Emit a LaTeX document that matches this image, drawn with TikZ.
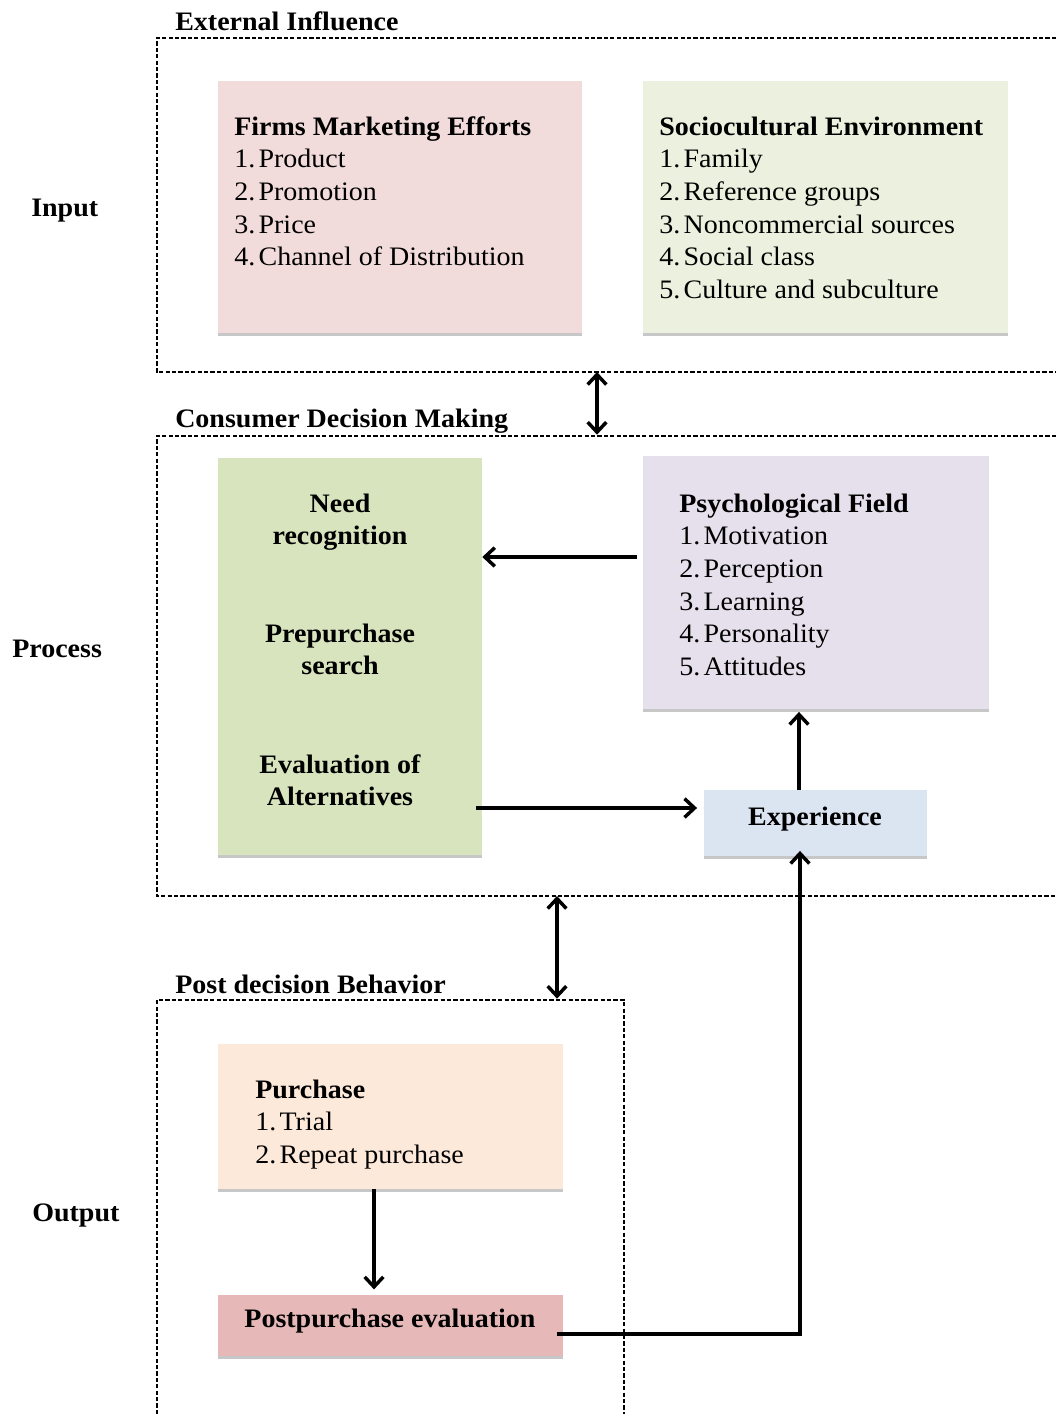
\documentclass[tikz,border=0pt]{standalone}
\usepackage{fontspec}
\setmainfont{Liberation Serif}[FakeStretch=1.05]
\usetikzlibrary{arrows.meta,fit,shadows}
\definecolor{cFirms}{HTML}{F2DCDB}
\definecolor{cSocio}{HTML}{EBF1DE}
\definecolor{cNeed}{HTML}{D7E4BD}
\definecolor{cPsych}{HTML}{E6E0EC}
\definecolor{cExp}{HTML}{DBE5F1}
\definecolor{cPurch}{HTML}{FDE9D9}
\definecolor{cPost}{HTML}{E6B9B8}
\newcommand{\blk}[2]{\begin{tabular}[t]{@{}#1@{}}#2\end{tabular}}
\newcommand{\nm}[1]{#1.\kern2.5pt}
\begin{document}
\begin{tikzpicture}[x=0.75pt,y=-0.75pt,
  txt/.style={inner sep=0pt,font=\fontsize{20}{24.5}\selectfont},
  lbl/.style={txt,font=\fontsize{20}{24.5}\selectfont\bfseries,anchor=base west},
  box/.style={inner sep=0pt,draw=none,drop shadow={shadow xshift=0pt,shadow yshift=-2.2pt,fill=black!22,opacity=1}},
  frame/.style={line width=1.1pt,dash pattern=on 3.2pt off 1.6pt},
  tip/.tip={Straight Barb[length=7.5pt,width=14pt,line width=2.6pt]},
  arr/.style={line width=2.8pt,-tip},
  darr/.style={line width=2.8pt,tip-tip}]
\useasboundingbox (0,0) rectangle (1056,1414);
\fill[white] (0,0) rectangle (1056,1414);

% frames
\draw[frame] (1056,38) -- (157,38) -- (157,372) -- (1056,372);
\draw[frame] (1056,436) -- (157,436) -- (157,896) -- (1056,896);
\draw[frame] (157,1414) -- (157,1000) -- (624,1000) -- (624,1414);

% frame titles and side labels
\node[lbl] (tExt) at (175,30) {External Influence};
\node[lbl] (tCdm) at (175,427) {Consumer Decision Making};
\node[lbl] (tPost) at (175,993) {Post decision Behavior};
\node[lbl] (lIn) at (31,216) {Input};
\node[lbl] (lPr) at (12,657) {Process};
\node[lbl] (lOut) at (32,1221) {Output};

% boxes
\node[box,fill=cFirms,fit={(218,81)(582,333)}] (firms) {};
\node[box,fill=cSocio,fit={(643,81)(1008,333)}] (socio) {};
\node[box,fill=cNeed,fit={(218,458)(482,855)}] (need) {};
\node[box,fill=cPsych,fit={(643,456)(989,709)}] (psych) {};
\node[box,fill=cExp,fit={(704,790)(927,856)}] (exp) {};
\node[box,fill=cPurch,fit={(218,1044)(563,1189)}] (purch) {};
\node[box,fill=cPost,fit={(218,1295)(563,1356)}] (post) {};

% box texts
\node[txt,anchor=base west] (firmsT) at (234,135) {\blk{l}{\textbf{Firms Marketing Efforts}\\\nm1Product\\\nm2Promotion\\\nm3Price\\\nm4Channel of Distribution}};
\node[txt,anchor=base west] (socioT) at (659,135) {\blk{l}{\textbf{Sociocultural Environment}\\\nm1Family\\\nm2Reference groups\\\nm3Noncommercial sources\\\nm4Social class\\\nm5Culture and subculture}};
\node[txt,anchor=base,font=\fontsize{20}{24.5}\selectfont\bfseries] (needT) at (340,512) {\blk{c}{Need\\recognition}};
\node[txt,anchor=base,font=\fontsize{20}{24.5}\selectfont\bfseries] (preT) at (340,642) {\blk{c}{Prepurchase\\search}};
\node[txt,anchor=base,font=\fontsize{20}{24.5}\selectfont\bfseries] (evalT) at (340,773) {\blk{c}{Evaluation of\\Alternatives}};
\node[txt,anchor=base west] (psychT) at (679,512) {\blk{l}{\textbf{Psychological Field}\\\nm1Motivation\\\nm2Perception\\\nm3Learning\\\nm4Personality\\\nm5Attitudes}};
\node[txt,anchor=base,font=\fontsize{20}{24.5}\selectfont\bfseries] (expT) at (815,825) {Experience};
\node[txt,anchor=base west] (purchT) at (255,1098) {\blk{l}{\textbf{Purchase}\\\nm1Trial\\\nm2Repeat purchase}};
\node[txt,anchor=base,font=\fontsize{20}{24.5}\selectfont\bfseries] (postT) at (390,1327) {Postpurchase evaluation};

% helper coordinates
\coordinate (y1) at (0,557);
\coordinate (y2) at (0,808);
\coordinate (x3) at (799,0);
\coordinate (x4) at (374,0);
\coordinate (y5) at (0,1334);
\coordinate (x6) at (800,0);
\coordinate (ext) at (597,372);
\coordinate (cdmTop) at (597,436);
\coordinate (cdmBot) at (557,896);
\coordinate (pdbTop) at (557,1000);

% connectors
\draw[darr] (ext) -- ([yshift=1pt]cdmTop);
\draw[darr] (cdmBot) -- ([yshift=1pt]pdbTop);
\draw[arr,shorten <=4.5pt] (psych.west |- y1) -- (need.east |- y1);
\draw[arr,shorten <=-4.5pt,shorten >=5pt] (need.east |- y2) -- (exp.west |- y2);
\draw[arr,shorten >=2pt] (exp.north -| x3) -- (psych.south -| x3);
\draw[arr,shorten >=4pt] (purch.south -| x4) -- (post.north -| x4);
\draw[line width=2.8pt,line join=miter,shorten <=-5pt] (post.east |- y5) -- (x6 |- y5) -- (x6 |- exp.south);
\draw[arr,shorten >=-4pt] (x6 |- post.north) -- (x6 |- exp.south);
\end{tikzpicture}
\end{document}
